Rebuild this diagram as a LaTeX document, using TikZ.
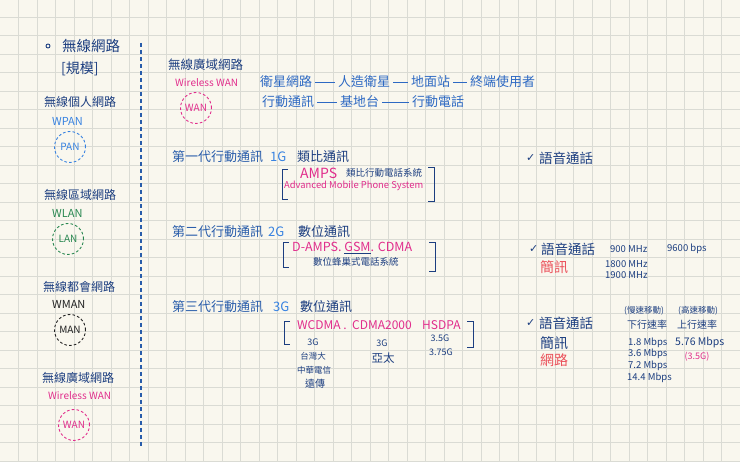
\documentclass[tikz,border=0pt]{standalone}
\usepackage{fontspec}
\setmainfont{Noto Sans CJK TC}
\newfontfamily\symf{DejaVu Sans}
\definecolor{bgc}{RGB}{249,247,238}
\definecolor{gridc}{RGB}{218,219,212}
\definecolor{navy}{RGB}{28,62,128}
\definecolor{mblue}{RGB}{40,92,170}
\definecolor{lblue}{RGB}{55,130,225}
\definecolor{sblue}{RGB}{45,105,195}
\definecolor{mag}{RGB}{225,45,140}
\definecolor{grn}{RGB}{40,135,80}
\definecolor{redc}{RGB}{235,80,90}
\definecolor{blk}{RGB}{34,34,34}
\tikzset{
  fsz/.style={font=\fontsize{#1pt}{#1pt}\selectfont},
  txt/.style={inner sep=0pt, anchor=west},
  ctxt/.style={inner sep=0pt, anchor=center},
  gridl/.style={draw=gridc, line width=0.9pt},
  netcirc/.style={circle, dashed, dash pattern=on 2.6pt off 2.2pt, line width=0.9pt, minimum size=31pt, inner sep=0pt, fsz=10},
  conn/.style={draw=sblue, line width=0.9pt, shorten <=3pt, shorten >=3pt},
  brk/.style={draw=navy, line width=1pt},
}
\begin{document}
\begin{tikzpicture}[x=1pt,y=-1pt]
\useasboundingbox (0,0) rectangle (740,462);
\fill[bgc] (0,0) rectangle (740,462);
\foreach \k in {1,...,39} \draw[gridl] (18.5*\k,0) -- (18.5*\k,462);
\foreach \k in {1,...,25} \draw[gridl] (0,18.5*\k-1.2) -- (740,18.5*\k-1.2);

% ---------- left column ----------
\node[circle, draw=navy, line width=0.9pt, minimum size=4pt, inner sep=0pt] (bul) at (48,46) {};
\node[txt, fsz=14.5, navy] (title) at (62,46) {無線網路};
\node[txt, fsz=14, navy] (scale) at (61,69) {[規模]};

\node[txt, fsz=12, navy] (pan-h) at (44,102) {無線個人網路};
\node[txt, fsz=11, lblue] (pan-e) at (52,121) {WPAN};
\node[netcirc, draw=lblue, text=lblue] (pan) at (70,147) {PAN};

\node[txt, fsz=12, navy] (lan-h) at (44,195) {無線區域網路};
\node[txt, fsz=11, grn] (lan-e) at (52,213) {WLAN};
\node[netcirc, draw=grn, text=grn] (lan) at (68,239) {LAN};

\node[txt, fsz=12, navy] (man-h) at (43,287) {無線都會網路};
\node[txt, fsz=11, blk] (man-e) at (52,304) {WMAN};
\node[netcirc, draw=blk, text=blk] (man) at (70,330) {MAN};

\node[txt, fsz=12, navy] (wan-h) at (42,378) {無線廣域網路};
\node[txt, fsz=10, mag] (wan-e) at (48,396) {Wireless WAN};
\node[netcirc, draw=mag, text=mag] (wan) at (74,425) {WAN};

\coordinate (sepT) at (141,43);
\coordinate (sepB) at (141,446);
\draw[draw=mblue, line width=1.1pt, dash pattern=on 4pt off 3pt] (sepT) -- (sepB);

% ---------- WAN detail ----------
\node[txt, fsz=12.5, navy] (wan2-h) at (168,65) {無線廣域網路};
\node[txt, fsz=10, mag] (wan2-e) at (175,83) {Wireless WAN};
\node[netcirc, draw=mag, text=mag] (wan2) at (196,108) {WAN};

\node[txt, fsz=13, sblue] (sat) at (260,82) {衛星網路};
\node[txt, fsz=13, sblue] (art) at (338,82) {人造衛星};
\node[txt, fsz=13, sblue] (gnd) at (411,82) {地面站};
\node[txt, fsz=13, sblue] (usr) at (470,82) {終端使用者};
\draw[conn] (sat) -- (art);
\draw[conn] (art) -- (gnd);
\draw[conn] (gnd) -- (usr);

\node[txt, fsz=13, sblue] (mob) at (262,102) {行動通訊};
\node[txt, fsz=13, sblue] (bs) at (340,102) {基地台};
\node[txt, fsz=13, sblue] (ph) at (412,102) {行動電話};
\draw[conn] (mob) -- (bs);
\draw[conn] (bs) -- (ph);

% ---------- 1G ----------
\node[txt, fsz=13, mblue] (g1) at (172,157) {第一代行動通訊};
\node[txt, fsz=13, lblue] (g1n) at (270,157) {1G};
\node[txt, fsz=13, navy] (g1t) at (297,157) {類比通訊};
\draw[brk] (288,170) -- (282,170) -- (282,200) -- (288,200);
\draw[brk] (428,168) -- (434,168) -- (434,202) -- (428,202);
\node[txt, fsz=14, mag] (amps) at (300,173) {AMPS};
\node[txt, fsz=9.5, navy] (amps-c) at (346,173) {類比行動電話系統};
\node[txt, fsz=9.4, mag] (amps-e) at (284,186) {Advanced Mobile Phone System};
\node[txt, fsz=11, navy] (v1c) at (526,158) {\symf ✓};
\node[txt, fsz=13.5, navy] (v1) at (539,158) {語音通話};

% ---------- 2G ----------
\node[txt, fsz=13, mblue] (g2) at (172,232) {第二代行動通訊};
\node[txt, fsz=13, lblue] (g2n) at (268,232) {2G};
\node[txt, fsz=13, navy] (g2t) at (298,232) {數位通訊};
\draw[brk] (289,243) -- (283,243) -- (283,268) -- (289,268);
\draw[brk] (429,243) -- (435,243) -- (435,272) -- (429,272);
\node[txt, fsz=12.5, mag] (d2) at (292,248) {D-AMPS. {\color{navy}\underline{\color{mag}GSM}}. CDMA};
\node[txt, fsz=9.5, navy] (d2-c) at (313,262) {數位蜂巢式電話系統};
\node[txt, fsz=11, navy] (v2c) at (529,249) {\symf ✓};
\node[txt, fsz=13.5, navy] (v2) at (541,249) {語音通話};
\node[txt, fsz=14, redc] (s2) at (540,267) {簡訊};
\node[txt, fsz=9.5, navy] (f900) at (610,249) {900 MHz};
\node[txt, fsz=9.5, navy] (f1800) at (605,264) {1800 MHz};
\node[txt, fsz=9.5, navy] (f1900) at (605,275) {1900 MHz};
\node[txt, fsz=9.5, navy] (bps) at (667,249) {9600 bps};

% ---------- 3G ----------
\node[txt, fsz=13, mblue] (g3) at (172,307) {第三代行動通訊};
\node[txt, fsz=13, lblue] (g3n) at (273,307) {3G};
\node[txt, fsz=13, navy] (g3t) at (300,307) {數位通訊};
\draw[brk] (290,322) -- (284,322) -- (284,345) -- (290,345);
\draw[brk] (467,322) -- (473,322) -- (473,348) -- (467,348);
\node[txt, fsz=12, mag] (wcdma) at (297,325) {WCDMA .};
\node[txt, fsz=12, mag] (cdma2k) at (352,325) {CDMA2000};
\node[txt, fsz=12, mag] (hsdpa) at (422,325) {HSDPA};
\node[ctxt, fsz=9, navy] (w3g) at (313,342) {3G};
\node[ctxt, fsz=8.5, navy] (twm) at (313,356) {台灣大};
\node[ctxt, fsz=8.5, navy] (cht) at (314,370) {中華電信};
\node[ctxt, fsz=10, navy] (fet) at (315,384) {遠傳};
\node[ctxt, fsz=9, navy] (c3g) at (382,343) {3G};
\node[ctxt, fsz=11.5, navy] (apt) at (383,358) {亞太};
\node[ctxt, fsz=9, navy] (h35) at (440,338) {3.5G};
\node[ctxt, fsz=9, navy] (h375) at (441,352) {3.75G};

\node[txt, fsz=11, navy] (v3c) at (526,323) {\symf ✓};
\node[txt, fsz=13.5, navy] (v3) at (539,323) {語音通話};
\node[txt, fsz=14, navy] (s3) at (540,343) {簡訊};
\node[txt, fsz=14, redc] (n3) at (540,360) {網路};
\node[ctxt, fsz=8.5, navy] (slow) at (644,311) {(慢速移動)};
\node[ctxt, fsz=8.5, navy] (fast) at (698,311) {(高速移動)};
\node[ctxt, fsz=10, navy] (down) at (647,325) {下行速率};
\node[ctxt, fsz=10, navy] (up) at (697,325) {上行速率};
\node[txt, fsz=9.5, navy] (r1) at (628,343) {1.8 Mbps};
\node[txt, fsz=9.5, navy] (r2) at (628,354) {3.6 Mbps};
\node[txt, fsz=9.5, navy] (r3) at (628,366) {7.2 Mbps};
\node[txt, fsz=9.5, navy] (r4) at (627,378) {14.4 Mbps};
\node[txt, fsz=10.5, navy] (u1) at (675,343) {5.76 Mbps};
\node[ctxt, fsz=9, mag] (u35) at (697,357) {(3.5G)};
\end{tikzpicture}
\end{document}
